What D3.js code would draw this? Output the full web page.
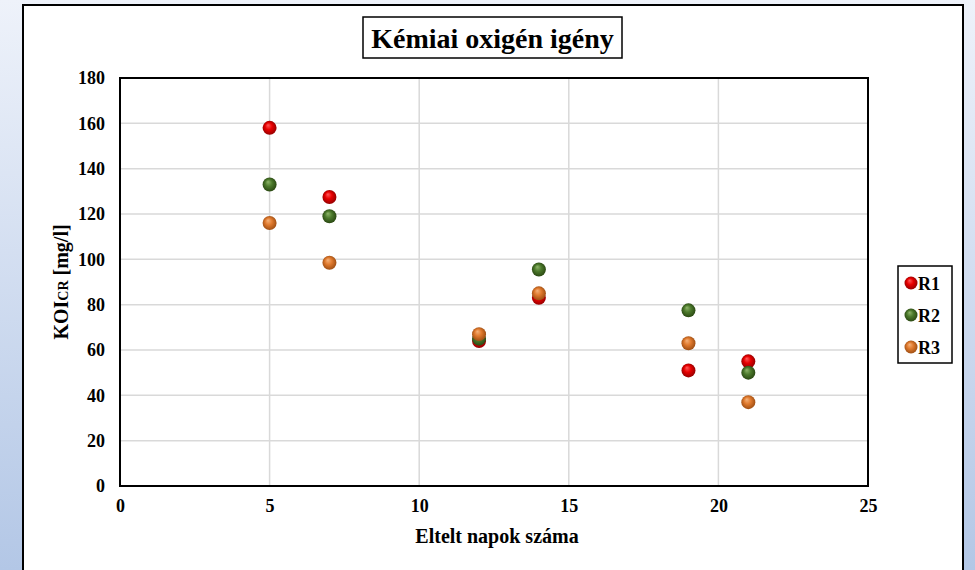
<!DOCTYPE html>
<html>
<head>
<meta charset="utf-8">
<script src="https://cdn.jsdelivr.net/npm/d3@7"></script>
<style>
  body { margin: 0; }
  svg { display: block; }
  text { font-family: "Liberation Serif", "Times New Roman", serif; font-weight: bold; fill: #000; }
</style>
</head>
<body>
<div id="viz"></div>
<script>
// data
var days = [5, 7, 12, 14, 19, 21]
var seriesNames = ["R1", "R2", "R3"]
var r1 = [158, 127.5, 64, 83, 51, 55]
var r2 = [133, 119, 65, 95.5, 77.5, 50]
var r3 = [116, 98.5, 67, 85, 63, 37]
var xTicks = [0, 5, 10, 15, 20, 25]
var yTicks = [0, 20, 40, 60, 80, 100, 120, 140, 160, 180]

var colors = {
    R1: ["#ff5a5a", "#e80000", "#8a0000"],
    R2: ["#8fb56a", "#4c7a2c", "#26420f"],
    R3: ["#f4b27a", "#e07a2e", "#97490f"]
}

const W = 975, H = 570
var plot = {left: 120, top: 78, right: 868, bottom: 486}

var svg = d3.select("#viz").append("svg")
    .attr("width", W)
    .attr("height", H)

var defs = svg.append("defs")
var bg = defs.append("linearGradient").attr("id", "bg")
    .attr("x1", 0).attr("y1", 0).attr("x2", 0).attr("y2", 1)
bg.append("stop").attr("offset", "0%").attr("stop-color", "#eef2fa")
bg.append("stop").attr("offset", "100%").attr("stop-color", "#b3c7e6")

seriesNames.forEach(function(n){
    var g = defs.append("radialGradient").attr("id", "ball" + n)
        .attr("cx", "50%").attr("cy", "50%").attr("r", "55%")
        .attr("fx", "38%").attr("fy", "30%")
    g.append("stop").attr("offset", "0%").attr("stop-color", colors[n][0])
    g.append("stop").attr("offset", "45%").attr("stop-color", colors[n][1])
    g.append("stop").attr("offset", "100%").attr("stop-color", colors[n][2])
})

svg.append("rect").attr("width", W).attr("height", H).style("fill", "url(#bg)")

// chart frame
svg.append("rect")
    .attr("x", 23).attr("y", 5)
    .attr("width", 940).attr("height", 580)
    .style("fill", "#fff")
    .style("stroke", "#000")
    .style("stroke-width", 2)

var x = d3.scaleLinear().domain([0, 25]).range([plot.left, plot.right])
var y = d3.scaleLinear().domain([0, 180]).range([plot.bottom, plot.top])

// gridlines
svg.append("g")
    .selectAll("line.vg")
    .data(xTicks.slice(1, -1))
    .enter()
    .append("line")
    .attr("x1", function(d){ return x(d) })
    .attr("x2", function(d){ return x(d) })
    .attr("y1", plot.top)
    .attr("y2", plot.bottom)
    .style("stroke", "#d9d9d9")
    .style("stroke-width", 1.5)

svg.append("g")
    .selectAll("line.hg")
    .data(yTicks.slice(1, -1))
    .enter()
    .append("line")
    .attr("x1", plot.left)
    .attr("x2", plot.right)
    .attr("y1", function(d){ return y(d) })
    .attr("y2", function(d){ return y(d) })
    .style("stroke", "#d9d9d9")
    .style("stroke-width", 1.5)

svg.append("rect")
    .attr("x", plot.left).attr("y", plot.top)
    .attr("width", plot.right - plot.left)
    .attr("height", plot.bottom - plot.top)
    .style("fill", "none")
    .style("stroke", "#000")
    .style("stroke-width", 2)

// axes
var xAxis = d3.axisBottom(x).tickValues(xTicks).tickSize(0).tickPadding(13)
var yAxis = d3.axisLeft(y).tickValues(yTicks).tickSize(0).tickPadding(15)

var gx = svg.append("g")
    .attr("transform", "translate(0," + plot.bottom + ")")
    .call(xAxis)
gx.select(".domain").remove()
gx.selectAll("text")
    .style("font-family", "Liberation Serif")
    .style("font-size", "18px")
    .style("font-weight", "bold")

var gy = svg.append("g")
    .attr("transform", "translate(" + plot.left + ",0)")
    .call(yAxis)
gy.select(".domain").remove()
gy.selectAll("text")
    .style("font-family", "Liberation Serif")
    .style("font-size", "18px")
    .style("font-weight", "bold")

// axis titles
svg.append("text")
    .attr("x", 497)
    .attr("y", 543)
    .attr("text-anchor", "middle")
    .style("font-size", "20px")
    .text("Eltelt napok száma")

var yt = svg.append("text")
    .attr("transform", "translate(68," + (plot.top + plot.bottom) / 2 + ") rotate(-90)")
    .attr("text-anchor", "middle")
    .style("font-size", "20px")
yt.append("tspan").text("KOI")
yt.append("tspan").style("font-size", "14px").text("CR")
yt.append("tspan").text(" [mg/l]")

// title
svg.append("rect")
    .attr("x", 363).attr("y", 17)
    .attr("width", 259).attr("height", 41)
    .style("fill", "#fff")
    .style("stroke", "#000")
    .style("stroke-width", 1.5)
svg.append("text")
    .attr("x", 492.5)
    .attr("y", 48)
    .attr("text-anchor", "middle")
    .style("font-size", "28px")
    .text("Kémiai oxigén igény")

// points
var allSeries = [r1, r2, r3]
allSeries.forEach(function(vals, i){
    svg.append("g")
        .selectAll(".pt")
        .data(vals)
        .enter()
        .append("circle")
        .attr("cx", function(d, j){ return x(days[j]) })
        .attr("cy", function(d){ return y(d) })
        .attr("r", 7)
        .style("fill", "url(#ball" + seriesNames[i] + ")")
})

// legend
svg.append("rect")
    .attr("x", 898).attr("y", 266)
    .attr("width", 54).attr("height", 97)
    .style("fill", "#fff")
    .style("stroke", "#000")
    .style("stroke-width", 1.5)

var leg = svg.append("g")
    .selectAll("g")
    .data(seriesNames)
    .enter()
    .append("g")
    .attr("transform", function(d, i){ return "translate(0," + (283 + i * 32) + ")" })
leg.append("circle")
    .attr("cx", 911)
    .attr("cy", 0)
    .attr("r", 6.5)
    .style("fill", function(d){ return "url(#ball" + d + ")" })
leg.append("text")
    .attr("x", 918)
    .attr("y", 6.5)
    .style("font-size", "18px")
    .text(function(d){ return d })
</script>
</body>
</html>
